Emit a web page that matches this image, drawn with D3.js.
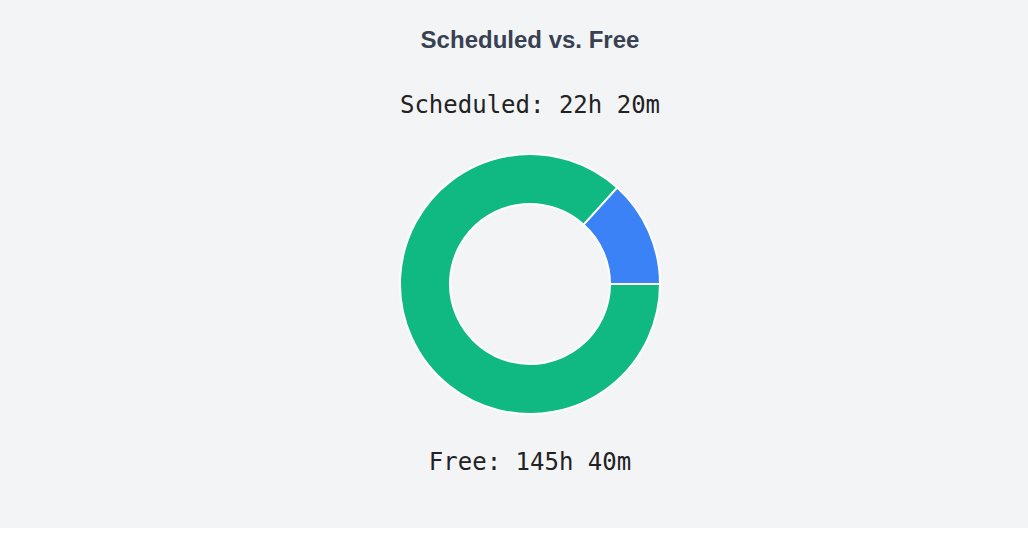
<!DOCTYPE html>
<html>
<head>
<meta charset="utf-8">
<script src="https://cdn.jsdelivr.net/npm/d3@7"></script>
<style>
  html, body { margin: 0; padding: 0; background: #ffffff; }
  svg { display: block; }
</style>
</head>
<body>
<svg id="chart" width="1028" height="546"></svg>
<script>
const title = "Scheduled vs. Free";
const categories = ["Scheduled", "Free"];
const minutesValues = [22 * 60 + 20, 145 * 60 + 40];
const colors = ["#3b82f6", "#10b981"];

function fmt(m) { return Math.floor(m / 60) + "h " + (m % 60) + "m"; }

const svg = d3.select("#chart");
svg.append("rect").attr("x", 0).attr("y", 0).attr("width", 1028).attr("height", 528).attr("fill", "#f3f4f6");

svg.append("text")
  .attr("x", 530).attr("y", 48)
  .attr("text-anchor", "middle")
  .attr("font-family", "Liberation Sans, Arial, sans-serif")
  .attr("font-weight", "bold")
  .attr("font-size", 24)
  .attr("fill", "#374151")
  .text(title);

const data = categories.map((c, i) => ({ name: c, value: minutesValues[i], color: colors[i] }));

// Free drawn first clockwise from 3 o'clock, Scheduled ends back at 3 o'clock
const order = [1, 0];
const pie = d3.pie().value(d => d.value).sort(null)
  .startAngle(Math.PI / 2).endAngle(Math.PI / 2 + 2 * Math.PI);
const arcs = pie(order.map(i => data[i]));
const arc = d3.arc().innerRadius(80).outerRadius(130);

const g = svg.append("g").attr("transform", "translate(530,284)");
g.selectAll("path").data(arcs).join("path")
  .attr("d", arc)
  .attr("fill", d => d.data.color)
  .attr("stroke", "#ffffff")
  .attr("stroke-width", 2);

const mono = "DejaVu Sans Mono, monospace";
svg.append("text")
  .attr("x", 530).attr("y", 113)
  .attr("text-anchor", "middle")
  .attr("font-family", mono).attr("font-size", 24).attr("fill", "#222222")
  .text(categories[0] + ": " + fmt(minutesValues[0]));
svg.append("text")
  .attr("x", 530).attr("y", 470)
  .attr("text-anchor", "middle")
  .attr("font-family", mono).attr("font-size", 24).attr("fill", "#222222")
  .text(categories[1] + ": " + fmt(minutesValues[1]));
</script>
</body>
</html>
